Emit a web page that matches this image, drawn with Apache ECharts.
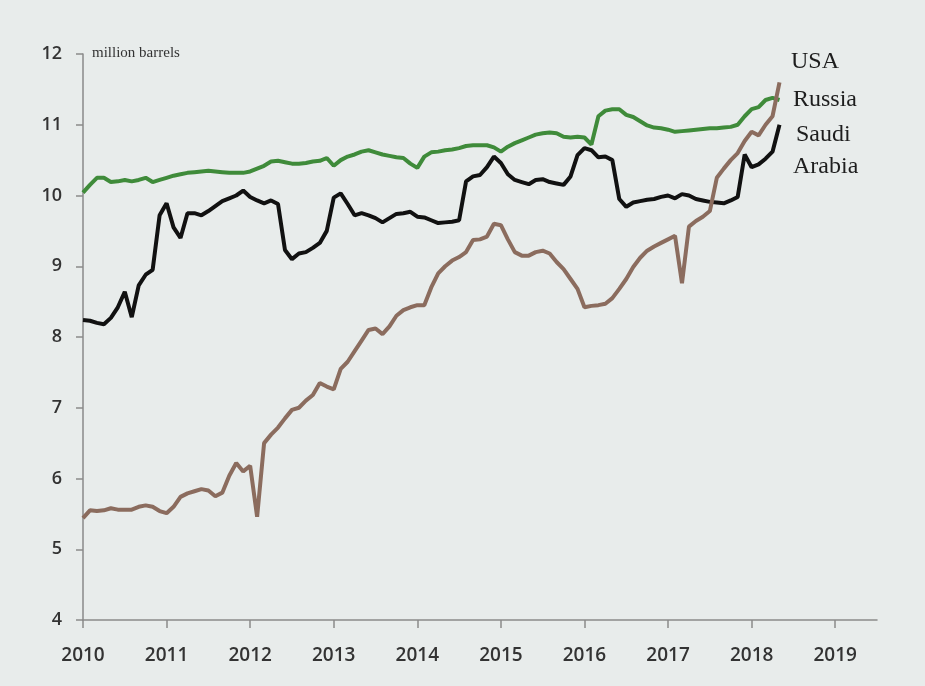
<!DOCTYPE html>
<html>
<head>
<meta charset="utf-8">
<title>Oil production</title>
<script src="https://cdn.jsdelivr.net/npm/echarts@6/dist/echarts.min.js"></script>
<style>
  html, body { margin: 0; padding: 0; background: #e8eceb; }
  #chart { width: 925px; height: 686px; }
</style>
</head>
<body>
<div id="chart"></div>
<script>
// monthly values, Jan 2010 .. May 2018, million barrels per day
const startYear = 2010
const years = [2010, 2011, 2012, 2013, 2014, 2015, 2016, 2017, 2018, 2019]
const yTicks = [4, 5, 6, 7, 8, 9, 10, 11, 12]

const russia = [
  10.04, 10.15, 10.25, 10.25, 10.19, 10.20, 10.22, 10.20, 10.22, 10.25, 10.19, 10.22,
  10.25, 10.28, 10.30, 10.32, 10.33, 10.34, 10.35, 10.34, 10.33, 10.32, 10.32, 10.32,
  10.34, 10.38, 10.42, 10.48, 10.49, 10.47, 10.45, 10.45, 10.46, 10.48, 10.49, 10.53,
  10.42, 10.50, 10.55, 10.58, 10.62, 10.64, 10.61, 10.58, 10.56, 10.54, 10.53, 10.45,
  10.39, 10.55, 10.61, 10.62, 10.64, 10.65, 10.67, 10.70, 10.71, 10.71, 10.71, 10.68,
  10.62, 10.69, 10.74, 10.78, 10.82, 10.86, 10.88, 10.89, 10.88, 10.83, 10.82, 10.83,
  10.82, 10.72, 11.12, 11.20, 11.22, 11.22, 11.14, 11.11, 11.05, 10.99, 10.96, 10.95,
  10.93, 10.90, 10.91, 10.92, 10.93, 10.94, 10.95, 10.95, 10.96, 10.97, 11.00, 11.12,
  11.22, 11.25, 11.35, 11.38, 11.35
]

const saudi = [
  8.24, 8.23, 8.20, 8.18, 8.27, 8.42, 8.64, 8.28, 8.73, 8.88, 8.95, 9.72,
  9.89, 9.55, 9.40, 9.75, 9.75, 9.72, 9.78, 9.85, 9.92, 9.96, 10.00, 10.07,
  9.98, 9.93, 9.89, 9.93, 9.88, 9.23, 9.10, 9.18, 9.20, 9.26, 9.33, 9.50,
  9.97, 10.03, 9.88, 9.72, 9.75, 9.72, 9.68, 9.62, 9.68, 9.74, 9.75, 9.77,
  9.70, 9.69, 9.65, 9.61, 9.62, 9.63, 9.65, 10.20, 10.27, 10.29, 10.40, 10.55,
  10.46, 10.30, 10.22, 10.19, 10.16, 10.22, 10.23, 10.19, 10.17, 10.15, 10.27, 10.57,
  10.67, 10.64, 10.54, 10.55, 10.50, 9.95, 9.84, 9.90, 9.92, 9.94, 9.95, 9.98,
  10.00, 9.96, 10.02, 10.00, 9.95, 9.93, 9.91, 9.90, 9.89, 9.93, 9.98, 10.58,
  10.40, 10.44, 10.52, 10.62, 11.00
]

const usa = [
  5.44, 5.55, 5.54, 5.55, 5.58, 5.56, 5.56, 5.56, 5.60, 5.62, 5.60, 5.54,
  5.51, 5.60, 5.74, 5.79, 5.82, 5.85, 5.83, 5.75, 5.80, 6.04, 6.22, 6.10,
  6.18, 5.46, 6.50, 6.62, 6.72, 6.85, 6.97, 7.00, 7.10, 7.18, 7.35, 7.30,
  7.26, 7.55, 7.65, 7.80, 7.95, 8.10, 8.12, 8.04, 8.15, 8.30, 8.38, 8.42,
  8.45, 8.45, 8.70, 8.90, 9.00, 9.08, 9.13, 9.20, 9.37, 9.38, 9.42, 9.60,
  9.58, 9.38, 9.20, 9.15, 9.15, 9.20, 9.22, 9.18, 9.06, 8.96, 8.82, 8.68,
  8.42, 8.44, 8.45, 8.47, 8.55, 8.68, 8.82, 8.99, 9.12, 9.22, 9.28, 9.33,
  9.38, 9.43, 8.76, 9.56, 9.64, 9.70, 9.78, 10.25, 10.38, 10.50, 10.60, 10.77,
  10.90, 10.85, 11.00, 11.12, 11.60
]

function toPairs(values) {
  return values.map((v, i) => [startYear + i / 12, v])
}

const chart = echarts.init(document.getElementById('chart'))

const axisFont = {
  fontFamily: 'Open Sans',
  fontWeight: 600,
  color: '#333'
}
const nameFont = { fontFamily: 'Liberation Serif', fontSize: 24, fill: '#1e1e1e' }

const option = {
  backgroundColor: '#e8eceb',
  animation: false,
  grid: { left: 83, right: 48, top: 54, bottom: 66 },
  xAxis: {
    type: 'value',
    min: 2010,
    max: 2019.5,
    axisLine: { lineStyle: { color: '#8a8a8a', width: 1.5 } },
    axisTick: { show: true, length: 8, customValues: years, lineStyle: { color: '#8a8a8a', width: 1.5 } },
    axisLabel: Object.assign({ customValues: years, margin: 26, fontSize: 19, formatter: v => String(v) }, axisFont),
    splitLine: { show: false }
  },
  yAxis: {
    type: 'value',
    min: 4,
    max: 12,
    interval: 1,
    axisLine: { show: true, lineStyle: { color: '#8a8a8a', width: 1.5 } },
    axisTick: { show: true, length: 7, lineStyle: { color: '#8a8a8a', width: 1.5 } },
    axisLabel: Object.assign({ margin: 21, fontSize: 18 }, axisFont),
    splitLine: { show: false }
  },
  series: [
    {
      name: 'Saudi Arabia',
      type: 'line',
      data: toPairs(saudi),
      showSymbol: false,
      lineStyle: { color: '#111111', width: 4 }
    },
    {
      name: 'Russia',
      type: 'line',
      data: toPairs(russia),
      showSymbol: false,
      lineStyle: { color: '#3f8b3a', width: 4 }
    },
    {
      name: 'USA',
      type: 'line',
      data: toPairs(usa),
      showSymbol: false,
      lineStyle: { color: '#8b6c5e', width: 4 }
    }
  ],
  graphic: [
    { type: 'text', left: 92, top: 46, style: { text: 'million barrels', fontFamily: 'Liberation Serif', fontSize: 15, fill: '#333' } },
    { type: 'text', left: 791, top: 50, style: Object.assign({ text: 'USA' }, nameFont) },
    { type: 'text', left: 793, top: 88, style: Object.assign({ text: 'Russia' }, nameFont) },
    { type: 'text', left: 796, top: 123, style: Object.assign({ text: 'Saudi' }, nameFont) },
    { type: 'text', left: 793, top: 155, style: Object.assign({ text: 'Arabia' }, nameFont) }
  ]
}

chart.setOption(option)
window.addEventListener('resize', function() {
  chart.resize()
})
</script>
</body>
</html>
